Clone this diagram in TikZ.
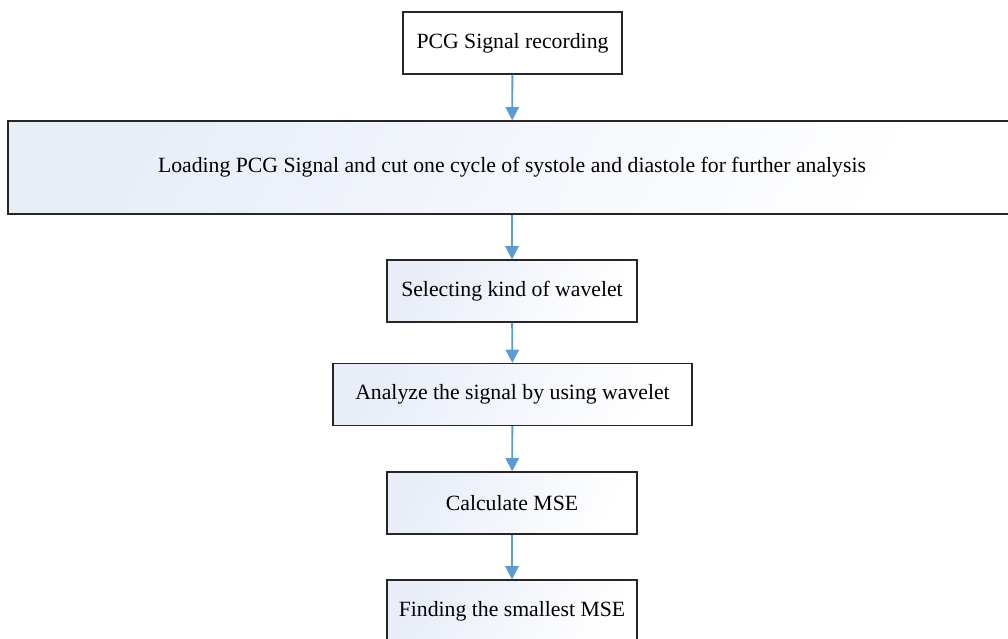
\documentclass[tikz,border=0pt]{standalone}
\usepackage{fontspec}
\setmainfont{Liberation Serif}
\usetikzlibrary{arrows.meta}
\definecolor{boxtint}{RGB}{232,237,248}
\definecolor{flowblue}{RGB}{91,155,213}
\tikzset{
	stepbox/.style={draw=black!85, line width=0.9pt, inner sep=0pt, align=center,
		minimum height=46.5pt, font=\fontsize{16.3}{19}\selectfont},
	tintbox/.style={stepbox, left color=boxtint, right color=white, shading angle=60},
	flow/.style={draw=flowblue, line width=1.4pt, -{Triangle[width=10pt,length=10pt]}}
}

\begin{document}
\begin{tikzpicture}[x=0.75pt, y=-0.75pt]
			%%%%% START %%%%%
			
			\clip (0, 0) rectangle (1008, 639);
			\useasboundingbox (0, 0) rectangle (1008, 639);
			
			\node[stepbox, minimum width=164.25pt] (rec) at (512.5, 43) {PCG Signal recording};
			\node[tintbox, minimum width=756pt, minimum height=69.75pt] (load) at (512, 167.5)
				{Loading PCG Signal and cut one cycle of systole and diastole for further analysis};
			\node[tintbox, minimum width=187.5pt] (select) at (512, 291) {Selecting kind of wavelet};
			\node[tintbox, minimum width=269.25pt] (analyze) at (512.5, 394.5) {Analyze the signal by using wavelet};
			\node[tintbox, minimum width=187.5pt] (mse) at (512, 503) {Calculate MSE};
			\node[tintbox, minimum width=187.5pt] (smallest) at (512, 611) {Finding the smallest MSE};
			
			\draw[flow] (rec) -- (load);
			\draw[flow] (load) -- (select);
			\draw[flow] (select) -- (analyze);
			\draw[flow] (analyze) -- (mse);
			\draw[flow] (mse) -- (smallest);
			
			%%%%% END %%%%%
\end{tikzpicture}
\end{document}
